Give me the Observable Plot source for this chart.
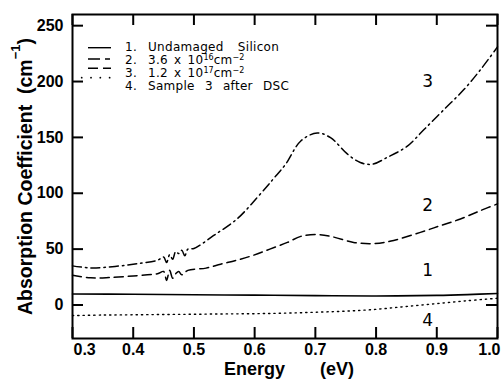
<!DOCTYPE html>
<html>
<head>
<meta charset="utf-8">
<script src="https://cdn.jsdelivr.net/npm/d3@7"></script>
<script src="https://cdn.jsdelivr.net/npm/@observablehq/plot@0.6"></script>
<style>
  body { margin: 0; background: #fff; }
  #wrap { position: relative; width: 502px; height: 381px; }
  #legend { position: absolute; left: 0; top: 0; width: 502px; height: 381px; pointer-events: none; font-family: "DejaVu Sans", sans-serif; font-size: 12px; letter-spacing: 0.3px; color: #000; }
  .row { position: absolute; white-space: nowrap; height: 12px; line-height: 12px; }
  .num { left: 125px; }
  .lab { left: 148px; word-spacing: 6px; }
  .lab.tight { word-spacing: 2px; }
  sup { font-size: 8px; vertical-align: 4px; line-height: 0; word-spacing: 0; letter-spacing: 0; }
  #legend svg { position: absolute; left: 0; top: 0; }
</style>
</head>
<body>
<div id="wrap"></div>
<script>
// ---- data ----
const xTicks = [0.3, 0.4, 0.5, 0.6, 0.7, 0.8, 0.9, 1.0];
const yTicks = [0, 50, 100, 150, 200, 250];

const energy1 = [0.30, 0.40, 0.50, 0.60, 0.70, 0.80, 0.90, 0.95, 1.00];
const values1 = [9.8, 9.6, 9.2, 8.8, 8.4, 8.1, 8.6, 9.3, 10.3];

const energy2 = [0.30, 0.33, 0.36, 0.40, 0.44, 0.45, 0.455, 0.46, 0.465, 0.47, 0.475, 0.48, 0.49, 0.52, 0.544, 0.57, 0.598, 0.625, 0.654, 0.676, 0.703, 0.73, 0.763, 0.796, 0.829, 0.873, 0.906, 0.939, 0.972, 1.0];
const values2 = [26.7, 24.3, 24.5, 26, 28, 30, 22, 31, 24, 28, 30, 27, 31, 33, 36.5, 40, 44.5, 50, 56, 61.4, 63, 60.8, 56, 54.9, 57.8, 65, 71, 77, 84.5, 90.5];

const energy3 = [0.30, 0.33, 0.37, 0.407, 0.44, 0.45, 0.455, 0.46, 0.465, 0.47, 0.475, 0.48, 0.485, 0.49, 0.50, 0.532, 0.571, 0.604, 0.631, 0.651, 0.676, 0.703, 0.725, 0.753, 0.774, 0.794, 0.818, 0.851, 0.879, 0.912, 0.945, 0.972, 1.0];
const values3 = [35, 33.2, 34.5, 37, 40, 43, 38, 45, 41, 48, 46, 49, 44, 50, 50.5, 62, 77, 96, 113, 126, 146.8, 154, 149.7, 135, 127.5, 126, 132, 142, 157, 175, 193, 210.6, 231];

const energy4 = [0.30, 0.35, 0.40, 0.45, 0.50, 0.55, 0.60, 0.65, 0.70, 0.75, 0.80, 0.85, 0.90, 0.95, 1.00];
const values4 = [-9.5, -9, -8.8, -8.5, -8.3, -8, -7.8, -7.3, -6.5, -5.5, -3.9, -1.3, 1.2, 3.8, 6];

const curveLabels = ["3", "2", "1", "4"];
const labelEnergy = [0.885, 0.885, 0.885, 0.885];
const labelValue = [200, 89, 31, -14];

const legendNums = ["1.", "2.", "3.", "4."];
const legendTexts = [
  "Undamaged <span style=\"margin-left:4px\">Silicon</span>",
  "3.6 x 10<sup>16</sup>cm<sup>−2</sup>",
  "1.2 x 10<sup>17</sup>cm<sup>−2</sup>",
  "Sample 3 after DSC"
];
const xTitle = "Energy\u00a0\u00a0\u00a0\u00a0\u00a0\u00a0\u00a0(eV)";
const yTitleMain = "Absorption Coefficient\u00a0\u00a0(cm";
const yTitleSup = "\u22121";
const yTitleEnd = ")";

// ---- styles ----
const dashes = [null, "9,5", "9,4,1.5,4", "1.3,4"];
const toRows = (xs, ys) => xs.map((x, i) => ({x, y: ys[i]}));

const s1 = toRows(energy1, values1);
const s2 = toRows(energy2, values2);
const s3 = toRows(energy3, values3);
const s4 = toRows(energy4, values4);
const labs = curveLabels.map((t, i) => ({t, x: labelEnergy[i], y: labelValue[i]}));

const FH = 381 - 14 - 43, FW = 502 - 72 - 5;
const bold = {fontFamily: "Liberation Sans, Arial, sans-serif", fontWeight: "bold", fontSize: 16};

const chart = Plot.plot({
  width: 502, height: 381,
  marginTop: 14, marginRight: 5, marginBottom: 43, marginLeft: 72,
  x: {domain: [0.3, 1.0], axis: null},
  y: {domain: [-30, 260], axis: null},
  style: {background: "#fff", color: "#000"},
  marks: [
    Plot.line(s1, {x: "x", y: "y", stroke: "#000", strokeWidth: 1.6, curve: "catmull-rom"}),
    Plot.line(s2, {x: "x", y: "y", stroke: "#000", strokeWidth: 1.5, strokeDasharray: dashes[1], curve: "catmull-rom"}),
    Plot.line(s3, {x: "x", y: "y", stroke: "#000", strokeWidth: 1.5, strokeDasharray: dashes[2], curve: "catmull-rom"}),
    Plot.line(s4, {x: "x", y: "y", stroke: "#000", strokeWidth: 1.4, strokeDasharray: dashes[3], curve: "catmull-rom"}),
    Plot.frame({stroke: "#000", strokeWidth: 2}),
    Plot.tickX(xTicks, {x: d => d, insetTop: FH - 11, stroke: "#000", strokeWidth: 2}),
    Plot.tickX(xTicks, {x: d => d, insetBottom: FH - 11, stroke: "#000", strokeWidth: 2}),
    Plot.tickY(yTicks, {y: d => d, insetRight: FW - 11, stroke: "#000", strokeWidth: 2}),
    Plot.tickY(yTicks, {y: d => d, insetLeft: FW - 11, stroke: "#000", strokeWidth: 2}),
    Plot.text(xTicks.slice(1, -1), {x: d => d, text: d => d.toFixed(1), frameAnchor: "bottom", lineAnchor: "top", dy: 5, ...bold}),
    Plot.text(xTicks.slice(0, 1), {x: d => d, text: d => d.toFixed(1), frameAnchor: "bottom", lineAnchor: "top", dy: 5, dx: 1, textAnchor: "start", ...bold}),
    Plot.text(xTicks.slice(-1), {x: d => d, text: d => d.toFixed(1), frameAnchor: "bottom", lineAnchor: "top", dy: 5, dx: 3, textAnchor: "end", ...bold}),
    Plot.text(yTicks, {y: d => d, text: d => String(d), frameAnchor: "left", textAnchor: "end", lineAnchor: "middle", dx: -9, ...bold}),
    Plot.text([xTitle], {frameAnchor: "bottom", lineAnchor: "middle", dy: 31, dx: 4, ...bold, fontSize: 18}),
    Plot.text(labs, {x: "x", y: "y", text: "t", fontFamily: "DejaVu Sans, sans-serif", fontSize: 17, fill: "#000"})
  ]
});

// rotated y-axis title
const yt = d3.select(chart).append("text")
  .attr("transform", "translate(32,315) rotate(-90)")
  .attr("text-anchor", "start")
  .attr("font-family", "Liberation Sans, Arial, sans-serif")
  .attr("font-weight", "bold")
  .attr("font-size", 19.5)
  .attr("fill", "#000");
yt.append("tspan").text(yTitleMain);
yt.append("tspan").attr("dy", -12).attr("font-size", 13).text(yTitleSup);
yt.append("tspan").attr("dy", 12).text(yTitleEnd);

const wrap = document.getElementById("wrap");
wrap.appendChild(chart);

// legend (HTML overlay inside the plot frame)
const legend = document.createElement("div");
legend.id = "legend";
const baselines = [50.5, 63.5, 76.5, 89.5];
const sampleY = [47.7, 59, 68.3, 77.7];
const sampleDash = [null, "12,5,5,100", "10,5,8,100", "0.01,9.3"];
let svgLines = "";
sampleY.forEach((y, i) => {
  const x1 = i === 3 ? 81.7 : 88;
  svgLines += `<line x1="${x1}" y1="${y}" x2="111" y2="${y}" stroke="#000" stroke-width="${i === 3 ? 1.8 : 1.4}" stroke-linecap="${i === 3 ? "round" : "butt"}"${sampleDash[i] ? ` stroke-dasharray="${sampleDash[i]}"` : ""}/>`;
});
legend.innerHTML = `<svg width="502" height="381">${svgLines}</svg>`;
legendNums.forEach((n, i) => {
  const num = document.createElement("div");
  num.className = "row num";
  num.style.top = (baselines[i] - 10) + "px";
  num.textContent = n;
  legend.appendChild(num);
  const lab = document.createElement("div");
  lab.className = "row lab" + (i === 1 || i === 2 ? " tight" : "");
  lab.style.top = (baselines[i] - 10) + "px";
  lab.innerHTML = legendTexts[i];
  legend.appendChild(lab);
});
wrap.appendChild(legend);
</script>
</body>
</html>
